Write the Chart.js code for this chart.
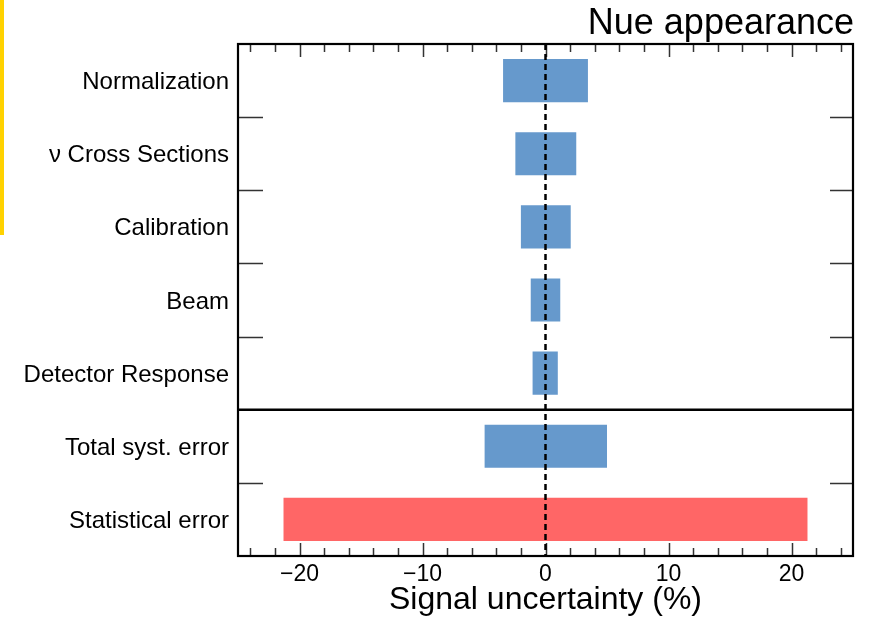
<!DOCTYPE html>
<html>
<head>
<meta charset="utf-8">
<title>Nue appearance – signal uncertainty</title>
<script src="https://cdn.jsdelivr.net/npm/chart.js@4/dist/chart.umd.min.js"></script>
<style>
  html, body { margin: 0; padding: 0; background: #fff; overflow: hidden; }
  #wrap { position: relative; width: 872px; height: 618px; }
  #wrap canvas { position: absolute; left: 0; top: 0; }
  #accent { position: absolute; left: 0; top: 0; width: 4px; height: 235px; background: #FFD200; }
</style>
</head>
<body>
<div id="wrap">
  <canvas id="chart" width="872" height="618"></canvas>
  <div id="accent"></div>
</div>
<script>
// Uncertainty sources, top to bottom
const categories = [
  "Normalization",
  "\u03BD Cross Sections",
  "Calibration",
  "Beam",
  "Detector Response",
  "Total syst. error",
  "Statistical error"
];
// Downward and upward shifts of the signal (%)
const lowerShift = [-3.45, -2.45, -2.0, -1.2, -1.05, -4.95, -21.3];
const upperShift = [ 3.45,  2.50,  2.05, 1.2,  1.0,   5.0,  21.3];
// Labelled values on the horizontal axis
const majorTicks = [-20, -10, 0, 10, 20];

const FONT = "'Liberation Sans', Arial, Helvetica, sans-serif";
const BLUE = "#6699CC";
const RED = "#FF6666";
const SEPARATOR_AFTER = categories.indexOf("Detector Response");

const barData = categories.map((_, i) => [lowerShift[i], upperShift[i]]);
const barColors = categories.map(c => c === "Statistical error" ? RED : BLUE);

const fmt = v => (v < 0 ? "\u2212" + Math.abs(v) : String(v));

// Frame, inward ticks, the syst/stat separator, the zero line and the texts
const framePlugin = {
  id: "frame",
  afterDatasetsDraw(chart) {
    const { ctx, chartArea: a, scales } = chart;
    const xs = scales.x, ys = scales.y;
    ctx.save();

    // inward ticks on the horizontal axes (minor every 2, major every 10)
    ctx.strokeStyle = "#333";
    ctx.lineWidth = 1.5;
    for (let v = -24; v <= 24; v += 2) {
      const px = Math.round(xs.getPixelForValue(v)) + 0.5;
      const len = (v % 10 === 0) ? 13 : 8;
      ctx.beginPath();
      ctx.moveTo(px, a.bottom); ctx.lineTo(px, a.bottom - len);
      ctx.moveTo(px, a.top); ctx.lineTo(px, a.top + len);
      ctx.stroke();
    }

    // inward ticks between categories on both vertical axes
    const n = categories.length;
    for (let i = 1; i < n; i++) {
      const py = Math.round((ys.getPixelForValue(i - 1) + ys.getPixelForValue(i)) / 2) + 0.5;
      if (i - 1 === SEPARATOR_AFTER) continue;
      ctx.beginPath();
      ctx.moveTo(a.left, py); ctx.lineTo(a.left + 25, py);
      ctx.moveTo(a.right, py); ctx.lineTo(a.right - 23, py);
      ctx.stroke();
    }

    // separator between the individual systematics and the totals
    const sy = (ys.getPixelForValue(SEPARATOR_AFTER) + ys.getPixelForValue(SEPARATOR_AFTER + 1)) / 2;
    ctx.strokeStyle = "#000";
    ctx.lineWidth = 2.5;
    ctx.beginPath();
    ctx.moveTo(a.left, sy); ctx.lineTo(a.right, sy);
    ctx.stroke();

    // dashed zero line
    const zx = xs.getPixelForValue(0);
    ctx.setLineDash([6, 4]);
    ctx.lineWidth = 2.5;
    ctx.beginPath();
    ctx.moveTo(zx, a.top); ctx.lineTo(zx, a.bottom);
    ctx.stroke();
    ctx.setLineDash([]);

    // frame
    ctx.lineWidth = 2.2;
    ctx.strokeRect(a.left, a.top, a.right - a.left, a.bottom - a.top);

    // texts
    ctx.fillStyle = "#000";
    ctx.textBaseline = "alphabetic";
    ctx.font = "36px " + FONT;
    ctx.textAlign = "right";
    ctx.fillText("Nue appearance", a.right + 1, 34);
    ctx.font = "32px " + FONT;
    ctx.textAlign = "center";
    ctx.fillText("Signal uncertainty (%)", (a.left + a.right) / 2, 609);

    ctx.restore();
  }
};

new Chart(document.getElementById("chart"), {
  type: "bar",
  data: {
    labels: categories,
    datasets: [{
      data: barData,
      backgroundColor: barColors,
      borderWidth: 0,
      categoryPercentage: 1.0,
      barPercentage: 0.59
    }]
  },
  options: {
    indexAxis: "y",
    responsive: false,
    animation: false,
    devicePixelRatio: 1,
    layout: { padding: { top: 44, right: 19, bottom: 0, left: 0 } },
    plugins: {
      legend: { display: false },
      tooltip: { enabled: false },
      title: { display: false }
    },
    scales: {
      x: {
        type: "linear",
        min: -25,
        max: 25,
        grid: { display: false, drawTicks: false },
        border: { display: false },
        afterBuildTicks: s => { s.ticks = majorTicks.map(v => ({ value: v })); },
        afterFit: s => { s.height = 62; },
        ticks: {
          autoSkip: false,
          maxRotation: 0,
          padding: 5,
          color: "#000",
          font: { family: FONT, size: 23 },
          callback: v => fmt(v)
        }
      },
      y: {
        type: "category",
        offset: true,
        grid: { display: false, drawTicks: false },
        border: { display: false },
        afterFit: s => { s.width = 238; },
        ticks: {
          autoSkip: false,
          padding: 9,
          labelOffset: 2,
          color: "#000",
          font: { family: FONT, size: 24 }
        }
      }
    }
  },
  plugins: [framePlugin]
});
</script>
</body>
</html>
